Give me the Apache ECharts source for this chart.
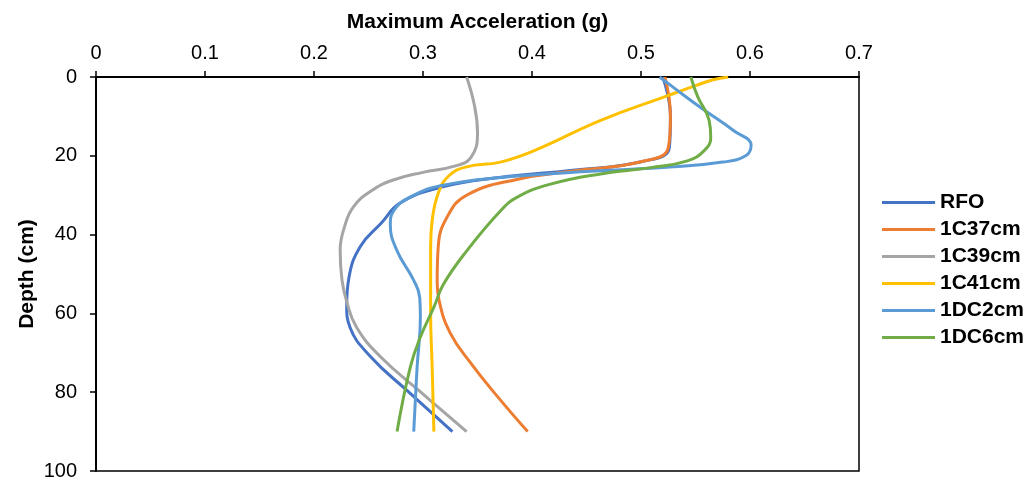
<!DOCTYPE html>
<html>
<head>
<meta charset="utf-8">
<script src="https://cdn.jsdelivr.net/npm/echarts@6/dist/echarts.min.js"></script>
<style>html,body{margin:0;padding:0;background:#fff}#c{width:1032px;height:481px}</style>
</head>
<body>
<div id="c"></div>
<script>
// [acceleration (g), depth (cm)]
const seriesNames = ['RFO', '1C37cm', '1C39cm', '1C41cm', '1DC2cm', '1DC6cm'];
const RFO = [[0.52,0],[0.527,10],[0.526,18],[0.50,21.5],[0.44,23.6],[0.37,25.5],[0.316,28],[0.279,32],[0.262,37],[0.2425,43],[0.232,51],[0.23,58],[0.233,63.5],[0.252,71],[0.285,79.5],[0.327,90]];
const C37 = [[0.522,0],[0.527,10],[0.525,18],[0.50,21.5],[0.44,23.8],[0.386,26],[0.34,30],[0.322,35.6],[0.314,43],[0.313,51.6],[0.315,57],[0.325,65],[0.344,72.7],[0.368,81],[0.396,90]];
const C39 = [[0.34,0],[0.347,7],[0.35,14],[0.344,20.4],[0.328,22.7],[0.30,24.2],[0.272,26.2],[0.252,29],[0.236,33],[0.228,38],[0.224,44],[0.2257,51.6],[0.23,57],[0.239,63.5],[0.261,71],[0.298,80],[0.34,90]];
const C41 = [[0.58,0],[0.566,0.7],[0.55,2.2],[0.524,4.8],[0.463,11],[0.402,18.7],[0.371,21.6],[0.34,22.8],[0.324,25],[0.314,29.5],[0.3084,36.5],[0.307,43],[0.307,51.6],[0.307,60],[0.3084,73.6],[0.31,90]];
const DC2 = [[0.517,0],[0.53,2.7],[0.555,7.8],[0.5855,13.7],[0.601,17.3],[0.596,20],[0.575,21.6],[0.53,22.8],[0.45,24],[0.371,25.5],[0.316,27.6],[0.288,30.5],[0.273,34],[0.27,37.5],[0.276,44],[0.2915,51.6],[0.297,56],[0.2976,61],[0.2946,73.6],[0.2915,90]];
const DC6 = [[0.5457,0],[0.552,5],[0.5625,11],[0.564,15.4],[0.558,18.7],[0.5426,21.3],[0.509,23],[0.463,24.6],[0.417,27.2],[0.3865,30.5],[0.371,34],[0.3405,44],[0.319,52.5],[0.31,58.4],[0.2976,66],[0.2884,73.6],[0.2762,90]];
const seriesData = [RFO, C37, C39, C41, DC2, DC6];
const colors = ['#4472C4', '#ED7D31', '#A5A5A5', '#FFC000', '#5B9BD5', '#70AD47'];

const font = 'Liberation Sans, Arial, sans-serif';
const chart = echarts.init(document.getElementById('c'));
chart.setOption({
  animation: false,
  color: colors,
  grid: { left: 96, right: 173, top: 77, bottom: 9, show: true, borderColor: '#000', borderWidth: 1.5, backgroundColor: 'transparent' },
  xAxis: {
    type: 'value', position: 'top', min: 0, max: 0.7, interval: 0.1,
    name: 'Maximum Acceleration (g)', nameLocation: 'middle', nameGap: 44,
    nameTextStyle: { fontFamily: font, fontSize: 21, fontWeight: 'bold', color: '#000' },
    axisLine: { show: true, lineStyle: { color: '#000', width: 2 } },
    axisTick: { show: true, inside: false, length: 6, lineStyle: { color: '#000', width: 1.5 } },
    axisLabel: { fontFamily: font, fontSize: 20, color: '#000', margin: 14 },
    splitLine: { show: false }
  },
  yAxis: {
    type: 'value', inverse: true, min: 0, max: 100, interval: 20,
    name: 'Depth (cm)', nameLocation: 'middle', nameGap: 58, nameMoveOverlap: false,
    nameTextStyle: { fontFamily: font, fontSize: 21, fontWeight: 'bold', color: '#000' },
    axisLine: { show: true, lineStyle: { color: '#000', width: 2 } },
    axisTick: { show: true, inside: false, length: 6, lineStyle: { color: '#000', width: 1.5 } },
    axisLabel: { fontFamily: font, fontSize: 20, color: '#000', margin: 19 },
    splitLine: { show: false }
  },
  legend: {
    orient: 'vertical', left: 882, top: 192, padding: 0,
    icon: 'rect', itemWidth: 53, itemHeight: 3, itemGap: 6,
    textStyle: { fontFamily: font, fontSize: 21, fontWeight: 'bold', color: '#000', lineHeight: 20 },
    data: seriesNames
  },
  series: seriesNames.map((n, i) => ({
    name: n, type: 'line', data: seriesData[i], smooth: 0.45, smoothMonotone: 'none', symbol: 'none',
    lineStyle: { width: 3, color: colors[i] }, itemStyle: { color: colors[i] }
  }))
});
</script>
</body>
</html>
